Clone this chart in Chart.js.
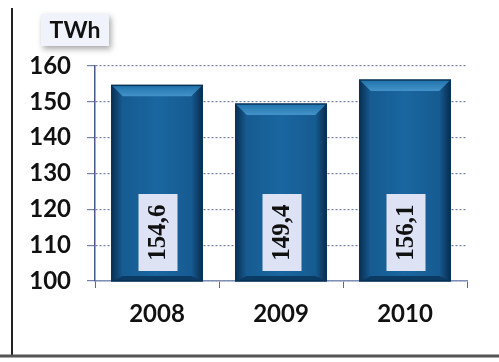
<!DOCTYPE html>
<html>
<head>
<meta charset="utf-8">
<script src="https://cdn.jsdelivr.net/npm/chart.js@4.4.1/dist/chart.umd.min.js"></script>
<style>
  html, body { margin: 0; padding: 0; background: #fff; }
  #wrap { width: 499px; height: 362px; position: relative; }
</style>
</head>
<body>
<div id="wrap"><canvas id="myChart"></canvas></div>
<script>
// anni e produzione in TWh
const years = ['2008', '2009', '2010']
const production = [154.6, 149.4, 156.1]
const yTicks = [100, 110, 120, 130, 140, 150, 160]

const fmt = v => v.toFixed(1).replace('.', ',')

// cornice: riga verticale a sinistra e bordo in basso
const frame = {
  id: 'frame',
  beforeDraw(chart) {
    const { ctx } = chart
    ctx.save()
    ctx.fillStyle = '#fff'
    ctx.fillRect(0, 0, chart.width, chart.height)
    ctx.strokeStyle = '#222'
    ctx.lineWidth = 2
    ctx.beginPath()
    ctx.moveTo(12, 8)
    ctx.lineTo(12, 356)
    ctx.stroke()
    ctx.strokeStyle = '#555'
    ctx.lineWidth = 3
    ctx.beginPath()
    ctx.moveTo(0, 356)
    ctx.lineTo(chart.width, 356)
    ctx.stroke()

    // etichetta unita' di misura
    ctx.shadowColor = 'rgba(0,0,0,0.35)'
    ctx.shadowBlur = 6
    ctx.shadowOffsetX = 2
    ctx.shadowOffsetY = 3
    ctx.fillStyle = '#f0f3fb'
    ctx.fillRect(41, 14, 68, 32)
    ctx.shadowColor = 'transparent'
    ctx.fillStyle = '#111'
    ctx.font = 'bold 23px Lato'
    ctx.textAlign = 'center'
    ctx.textBaseline = 'middle'
    ctx.fillText('TWh', 75, 31)
    ctx.restore()
  }
}

// barre con effetto smussato e valore in verticale dentro un riquadro
const bevelBars = {
  id: 'bevelBars',
  afterDatasetsDraw(chart) {
    const { ctx } = chart
    const meta = chart.getDatasetMeta(0)
    const b = chart.scales.y.getPixelForValue(yTicks[0])
    ctx.save()
    meta.data.forEach((bar, i) => {
      const l = bar.x - bar.width / 2
      const r = bar.x + bar.width / 2
      const t = bar.y
      const e = 11
      // ombreggiatura ai lati
      const side = ctx.createLinearGradient(l, 0, r, 0)
      side.addColorStop(0, 'rgba(5,30,60,0.75)')
      side.addColorStop(0.12, 'rgba(5,30,60,0.15)')
      side.addColorStop(0.5, 'rgba(5,30,60,0)')
      side.addColorStop(0.88, 'rgba(5,30,60,0.15)')
      side.addColorStop(1, 'rgba(5,30,60,0.8)')
      ctx.fillStyle = side
      ctx.fillRect(l, t, r - l, b - t)
      // smusso superiore chiaro
      const g = ctx.createLinearGradient(0, t, 0, t + e)
      g.addColorStop(0, '#1f72ab')
      g.addColorStop(1, '#4393c9')
      ctx.fillStyle = g
      ctx.beginPath()
      ctx.moveTo(l, t); ctx.lineTo(r, t); ctx.lineTo(r - e, t + e); ctx.lineTo(l + e, t + e); ctx.closePath()
      ctx.fill()
      // bordo inferiore scuro
      ctx.fillStyle = '#0b3a62'
      ctx.beginPath()
      ctx.moveTo(l, b); ctx.lineTo(r, b); ctx.lineTo(r - e, b - 5); ctx.lineTo(l + e, b - 5); ctx.closePath()
      ctx.fill()
      ctx.strokeStyle = '#0a3358'
      ctx.lineWidth = 1.5
      ctx.strokeRect(l, t, r - l, b - t)

      // riquadro del valore
      const bw = 39, bh = 77
      const bx = bar.x - bw / 2 + 1
      const by = b - 10 - bh
      ctx.fillStyle = '#dde3f4'
      ctx.fillRect(bx, by, bw, bh)
      ctx.save()
      ctx.translate(bx + bw / 2, by + bh / 2)
      ctx.rotate(-Math.PI / 2)
      ctx.fillStyle = '#111'
      ctx.font = 'bold 25px "Liberation Serif"'
      ctx.textAlign = 'center'
      ctx.textBaseline = 'middle'
      ctx.fillText(fmt(production[i]), 0, 1)
      ctx.restore()
    })
    ctx.restore()
  }
}

const ctx = document.getElementById('myChart')

new Chart(ctx, {
  type: 'bar',
  plugins: [frame, bevelBars],
  data: {
    labels: years,
    datasets: [{
      data: production,
      backgroundColor: '#1966a0',
      borderWidth: 0,
      barPercentage: 0.73,
      categoryPercentage: 1
    }]
  },
  options: {
    responsive: true,
    maintainAspectRatio: false,
    animation: false,
    layout: { padding: { top: 66, right: 32, left: 0, bottom: 0 } },
    plugins: { legend: { display: false }, tooltip: { enabled: false } },
    scales: {
      x: {
        afterFit(scale) { scale.height = 81 },
        grid: {
          offset: true,
          drawOnChartArea: false,
          tickLength: 7,
          color: '#5a6a95'
        },
        border: { color: '#7f8fb5', width: 1.5 },
        ticks: {
          color: '#111',
          font: { family: 'Lato', size: 24, weight: 'bold' },
          padding: 12
        }
      },
      y: {
        min: 100,
        max: 160,
        afterFit(scale) { scale.width = 95 },
        afterBuildTicks(scale) { scale.ticks = yTicks.map(v => ({ value: v })) },
        grid: {
          color: '#7080b0',
          lineWidth: 1.2,
          tickLength: 8
        },
        border: { color: '#4a5a8a', width: 1.5, dash: [2, 2] },
        ticks: {
          color: '#111',
          font: { family: 'Lato', size: 24, weight: 'bold' },
          padding: 16
        }
      }
    }
  }
})
</script>
</body>
</html>
